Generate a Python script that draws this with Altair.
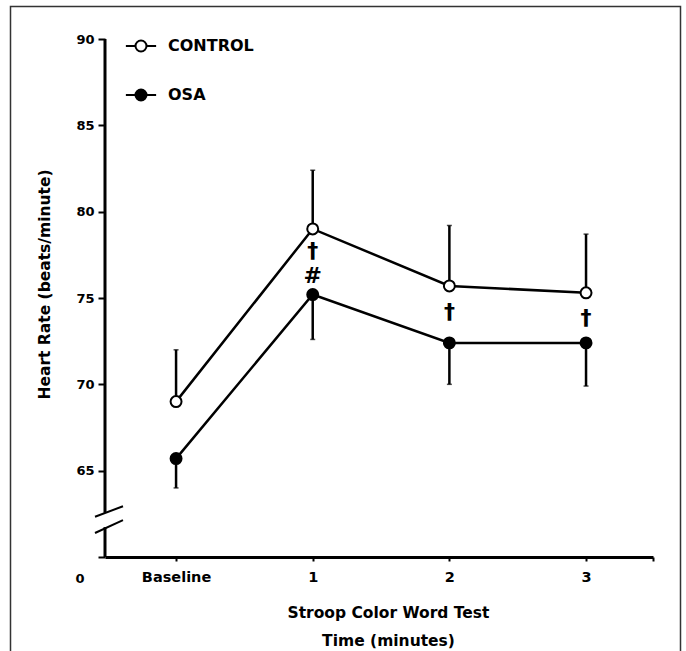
import altair as alt
import pandas as pd

# ---- data ----
time_pos = [0, 1, 2, 3]
time_labels = ["Baseline", "1", "2", "3"]
control_mean = [69.0, 79.0, 75.7, 75.3]
control_upper = [72.0, 82.4, 79.2, 78.7]
osa_mean = [65.7, 75.2, 72.4, 72.4]
osa_lower = [64.0, 72.6, 70.0, 69.9]

ann_time = [1, 1, 2, 3]
ann_value = [77.75, 76.25, 74.2, 73.85]
ann_text = ["\u2020", "#", "\u2020", "\u2020"]

y_ticks = [60, 65, 70, 75, 80, 85, 90]
x_ticks = [0, 1, 2, 3, 3.49]

# axis break (y-axis line segments and slash marks)
axis_seg_lo = [60, 62.56]
axis_seg_hi = [61.73, 90]
slash_lo = [62.33, 61.39]
slash_hi = [62.94, 62.14]

series = ["CONTROL", "OSA"]

rows = []
for i, t in enumerate(time_pos):
    rows.append({"series": "CONTROL", "time": t, "hr": control_mean[i], "err": control_upper[i]})
    rows.append({"series": "OSA", "time": t, "hr": osa_mean[i], "err": osa_lower[i]})
df = pd.DataFrame(rows)
ann = pd.DataFrame({"time": ann_time, "hr": ann_value, "txt": ann_text})
seg = pd.DataFrame({"hr": axis_seg_lo, "hr2": axis_seg_hi})
sl = pd.DataFrame({"hr": slash_lo, "hr2": slash_hi})
one = pd.DataFrame({"k": [0]})

FONT = "DejaVu Sans"
YTITLE = "Heart Rate (beats/minute)"

xscale = alt.Scale(domain=[-0.52, 3.49], nice=False, zero=False)
yscale = alt.Scale(domain=[60, 90], nice=False, zero=False)

x_axis = alt.Axis(
    values=x_ticks,
    labelExpr="datum.value == 0 ? 'Baseline' : (datum.value > 3 ? '' : format(datum.value, 'd'))",
    tickSize=4, tickWidth=2, tickColor="black",
    domainWidth=3, domainColor="black",
    labelFont=FONT, labelFontSize=14.5, labelFontWeight="bold", labelColor="black",
    labelPadding=9, labelFlush=False,
    title=["Stroop Color Word Test", "Time (minutes)"],
    titleFont=FONT, titleFontSize=15.5, titleFontWeight="bold", titleColor="black",
    titleLineHeight=28, titlePadding=22, titleX=283, titleAlign="center",
    grid=False,
)
y_axis = alt.Axis(
    values=y_ticks,
    labelExpr="datum.value == 60 ? '0' : datum.label",
    tickSize=7, tickWidth=2, tickColor="black",
    domain=False,
    labelFont=FONT, labelFontSize=13, labelFontWeight="bold", labelColor="black",
    labelPadding={"condition": {"test": "datum.value == 60", "value": 14}, "value": 4},
    labelOffset={"condition": {"test": "datum.value == 60", "value": 21}, "value": 0},
    labelFlush=False,
    title=YTITLE,
    titleFont=FONT, titleFontSize=15.5, titleFontWeight="bold", titleColor="black",
    titleX=-61, titleY=245, titleAlign="center", titleBaseline="middle", titleAngle=-90,
    grid=False,
)

X = alt.X("time:Q", scale=xscale, axis=x_axis)
Y = alt.Y("hr:Q", scale=yscale, axis=y_axis, title=YTITLE)

base = alt.Chart(df)

lines = base.mark_line(color="black", strokeWidth=2.5).encode(
    x=X, y=Y, detail="series:N"
)
bars = base.mark_rule(color="black", strokeWidth=2.5).encode(
    x=X, y=Y, y2="err:Q"
)
caps = base.mark_tick(color="black", orient="horizontal", size=5, thickness=1.5).encode(
    x=X, y=alt.Y("err:Q", scale=yscale, axis=y_axis, title=YTITLE)
)

legend_path = "M-1.1,0L-0.4,0M0.4,0L1.1,0M0.4,0A0.4,0.4,0,1,1,-0.4,0A0.4,0.4,0,1,1,0.4,0Z"
points = base.mark_point(filled=True, shape="circle", size=120, stroke="black",
                         strokeWidth=2, opacity=1).encode(
    x=X, y=Y,
    fill=alt.Fill("series:N",
                  scale=alt.Scale(domain=series, range=["white", "black"]),
                  legend=alt.Legend(
                      title=None, orient="none", legendX=21, legendY=-8,
                      symbolType=legend_path, symbolSize=756,
                      symbolStrokeColor="black", symbolStrokeWidth=2,
                      symbolOpacity=1,
                      labelFont=FONT, labelFontSize=16, labelFontWeight="bold",
                      labelColor="black", labelOffset=12, rowPadding=24, padding=0,
                  )),
)

marks = alt.Chart(ann).mark_text(font=FONT, fontSize=22, fontWeight="bold", color="black",
                                 align="center", baseline="middle").encode(
    x=X, y=Y, text="txt:N"
)

yline = alt.Chart(seg).mark_rule(color="black", strokeWidth=3).encode(
    x=alt.value(0), y=Y, y2="hr2:Q"
)
slashes = alt.Chart(sl).mark_rule(color="black", strokeWidth=2).encode(
    x=alt.value(-10), x2=alt.value(18), y=Y, y2="hr2:Q"
)

# thin frame around the figure (decoration, pixel positioned)
frame = alt.Chart(one).mark_rect(fillOpacity=0, stroke="#333333", strokeWidth=1.5).encode(
    x=alt.value(-94.5), x2=alt.value(575.5), y=alt.value(-32.5), y2=alt.value(700)
)

chart = alt.layer(frame, yline, slashes, lines, bars, caps, points, marks).properties(
    width=548, height=518,
    autosize=alt.AutoSizeParams(type="none"),
    padding={"left": 105, "top": 39, "right": 33, "bottom": 94},
    background="white",
).configure_view(stroke=None)

chart.save("out.html", embed_options={"renderer": "svg", "actions": False})
